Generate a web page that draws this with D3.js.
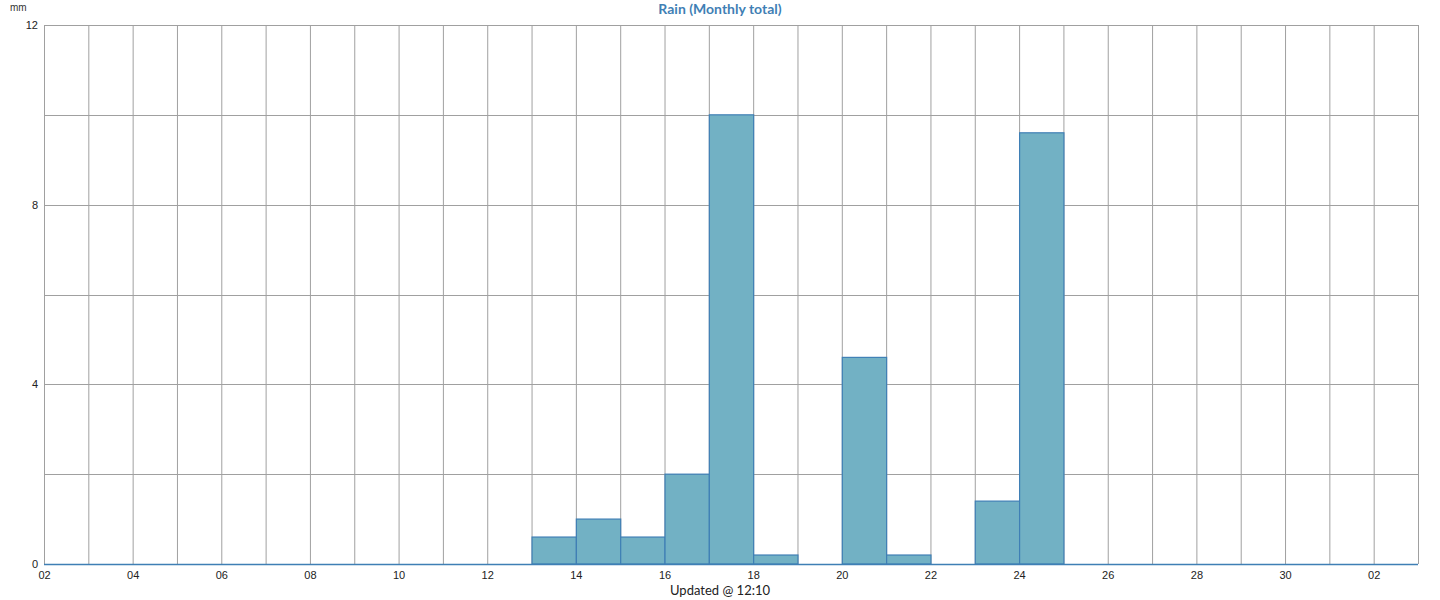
<!DOCTYPE html>
<html><head><meta charset="utf-8">
<script src="https://cdn.jsdelivr.net/npm/d3@7"></script>
<style>body{margin:0;background:#fff;}svg{display:block;}</style>
</head><body>
<svg id="c" width="1440" height="600"></svg>
<script>
const days = [13, 14, 15, 16, 17, 18, 19, 20, 21, 22, 23, 24];
const rain = [0.6, 1.0, 0.6, 2.0, 10.0, 0.2, 0, 4.6, 0.2, 0, 1.4, 9.6];
const xTicks = [2,4,6,8,10,12,14,16,18,20,22,24,26,28,30,32];
const yTicks = [0,4,8,12];
const monthDays = 30;

const svg = d3.select("#c");
const m = {l:44, r:1418, t:25, b:564};
const x = d3.scaleLinear().domain([2,33]).range([m.l,m.r]);
const y = d3.scaleLinear().domain([0,12]).range([m.b,m.t]);

const g = svg.append("g");
g.selectAll("line.v").data(d3.range(2,34)).enter().append("line")
 .attr("x1",d=>x(d)+0.5).attr("x2",d=>x(d)+0.5).attr("y1",m.t).attr("y2",m.b)
 .attr("stroke","#a0a0a0").attr("stroke-width",1);
g.selectAll("line.h").data(d3.range(0,13,2)).enter().append("line")
 .attr("x1",m.l).attr("x2",m.r).attr("y1",d=>Math.round(y(d))+0.5).attr("y2",d=>Math.round(y(d))+0.5)
 .attr("stroke","#a0a0a0").attr("stroke-width",1);

svg.append("g").selectAll("rect").data(days.map((d,i)=>({d,v:rain[i]})).filter(o=>o.v>0)).enter().append("rect")
 .attr("x",o=>x(o.d)+0.5).attr("width",o=>x(o.d+1)-x(o.d))
 .attr("y",o=>y(o.v)).attr("height",o=>y(0)-y(o.v))
 .attr("fill","#72b1c4").attr("stroke","#3f7fb5").attr("stroke-width",1.2);

svg.append("line").attr("x1",m.l).attr("x2",m.r).attr("y1",m.b+0.5).attr("y2",m.b+0.5)
 .attr("stroke","#3f7fb5").attr("stroke-width",1.3);

const fmt = d => { let v = d>monthDays ? d-monthDays : d; return (v<10?"0":"")+v; };
const xAxis = d3.axisBottom(x).tickValues(xTicks).tickFormat(fmt).tickSize(0).tickPadding(7);
const xa = svg.append("g").attr("transform",`translate(0,${m.b})`).call(xAxis);
xa.select(".domain").remove();
xa.selectAll("text").attr("font-family","Liberation Sans, Arial, sans-serif").attr("font-size",11).attr("fill","#222");

const yAxis = d3.axisLeft(y).tickValues(yTicks).tickSize(0).tickPadding(6);
const ya = svg.append("g").attr("transform",`translate(${m.l},0)`).call(yAxis);
ya.select(".domain").remove();
ya.selectAll("text").attr("font-family","Liberation Sans, Arial, sans-serif").attr("font-size",11).attr("fill","#222");

svg.append("text").attr("x",10).attr("y",11).text("mm")
 .attr("font-family","Liberation Sans, Arial, sans-serif").attr("font-size",10).attr("fill","#333");
svg.append("text").attr("x",720).attr("y",14).attr("text-anchor","middle").text("Rain (Monthly total)")
 .attr("font-family","Lato, sans-serif").attr("font-weight","bold").attr("font-size",14).attr("fill","#3f7fb5");
svg.append("text").attr("x",720).attr("y",595).attr("text-anchor","middle").text("Updated @ 12:10")
 .attr("font-family","Lato, sans-serif").attr("font-size",13).attr("fill","#222");
</script>
</body></html>
